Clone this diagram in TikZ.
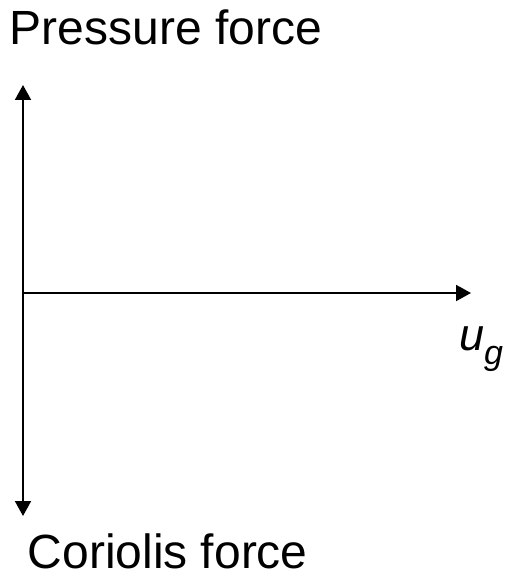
\documentclass[tikz,border=0pt]{standalone}
\usepackage{fontspec}
\setmainfont{Liberation Sans}
\usetikzlibrary{arrows.meta}
\begin{document}
\begin{tikzpicture}[x=1pt,y=-1pt,
  axis/.style={line width=2pt,-{Triangle[width=16pt,length=15pt]}},
  lbl/.style={anchor=base west,inner sep=0pt,font=\fontsize{48}{58}\selectfont}]
\useasboundingbox (0,0) rectangle (506,580);
\coordinate (O) at (23,293);
\coordinate (top) at (23,85);
\coordinate (bot) at (23,516);
\coordinate (right) at (471,293);
\draw[axis] (O) -- (top);
\draw[axis] (O) -- (bot);
\draw[axis] (O) -- (right);
\node[lbl] (pf) at (9.5,45) {Pressure force};
\node[lbl] (cf) at (27.5,568) {Coriolis force};
\node[lbl,font=\fontsize{45}{54}\selectfont] (ug) at (459,350) {\itshape u\raisebox{-14pt}{\fontsize{34}{40}\selectfont g}};
\end{tikzpicture}
\end{document}
